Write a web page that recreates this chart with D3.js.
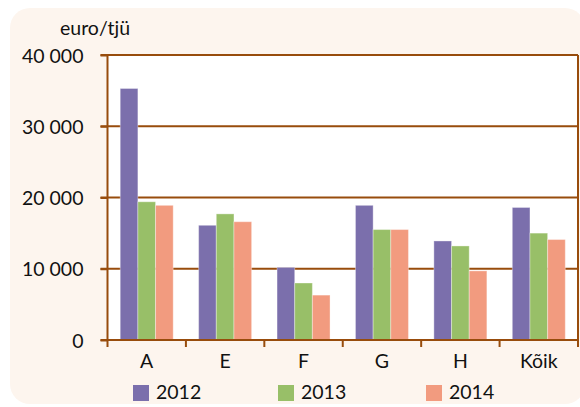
<!DOCTYPE html>
<html>
<head>
<meta charset="utf-8">
<script src="https://cdn.jsdelivr.net/npm/d3@7"></script>
<style>
  body { margin: 0; background: #fff; }
  svg text { font-family: Lato, "Open Sans", sans-serif; fill: #111; }
</style>
</head>
<body>
<svg id="chart" width="580" height="407"></svg>
<script>
var categories = ["A", "E", "F", "G", "H", "Kõik"];
var years = ["2012", "2013", "2014"];
var values2012 = [35300, 16100, 10200, 18900, 13900, 18600];
var values2013 = [19400, 17700, 8000, 15500, 13200, 15000];
var values2014 = [18900, 16600, 6300, 15500, 9700, 14100];
var yTicks = [0, 10000, 20000, 30000, 40000];
var colors = ["#7b6fac", "#98bf68", "#f29b7f"];

var series = [values2012, values2013, values2014];

var margin = {top: 55, right: 2, bottom: 67, left: 107.5},
    width = 580 - margin.left - margin.right,
    height = 407 - margin.top - margin.bottom;

var brown = "#984c0c";
var fs = 19.5;
var svg = d3.select("#chart");

// cream panel behind everything
svg.append("rect")
    .attr("x", 10).attr("y", 8)
    .attr("width", 575).attr("height", 396)
    .attr("rx", 20)
    .attr("fill", "#fdf5ee");

var g = svg.append("g")
    .attr("transform", "translate(" + margin.left + "," + margin.top + ")");

var x0 = d3.scaleBand()
    .domain(categories)
    .range([0, width]);

var x1 = d3.scaleBand()
    .domain(years)
    .range([0, x0.bandwidth()])
    .paddingOuter(0.72);

var y = d3.scaleLinear()
    .domain([0, 40000])
    .range([height, 0]);

g.append("rect")
    .attr("width", width).attr("height", height)
    .attr("fill", "#fff");

// gridlines
g.append("g")
    .selectAll("line")
    .data(yTicks.slice(1))
  .enter().append("line")
    .attr("x1", -7).attr("x2", width)
    .attr("y1", d => y(d)).attr("y2", d => y(d))
    .attr("stroke", brown)
    .attr("stroke-width", 2);

// bars
var group = g.selectAll(".cat")
    .data(categories)
  .enter().append("g")
    .attr("class", "cat")
    .attr("transform", d => "translate(" + x0(d) + ",0)");

group.selectAll("rect")
    .data((d, i) => years.map((yr, j) => ({year: yr, value: series[j][i], k: j})))
  .enter().append("rect")
    .attr("x", d => x1(d.year))
    .attr("y", d => y(d.value))
    .attr("width", x1.bandwidth())
    .attr("height", d => y(0) - y(d.value))
    .attr("fill", d => colors[d.k])
    .attr("stroke", "#fff")
    .attr("stroke-opacity", 0.35)
    .attr("stroke-width", 1);

// right border
g.append("line")
    .attr("x1", width).attr("x2", width)
    .attr("y1", 0).attr("y2", height + 7)
    .attr("stroke", brown).attr("stroke-width", 2);

// y axis
var yAxis = d3.axisLeft(y)
    .tickValues(yTicks)
    .tickSize(7)
    .tickPadding(17)
    .tickFormat(d => d === 0 ? "0" : d3.format(",")(d).replace(",", " "));

var ya = g.append("g").call(yAxis);
ya.select(".domain").remove();
ya.append("line")
    .attr("x1", 0).attr("x2", 0)
    .attr("y1", 0).attr("y2", height + 7)
    .attr("stroke", brown).attr("stroke-width", 2);
ya.selectAll(".tick line").attr("stroke", brown).attr("stroke-width", 2);
ya.selectAll(".tick text")
    .attr("font-size", fs)
    .attr("dy", "0.36em");

// x axis
var xa = g.append("g")
    .attr("transform", "translate(0," + height + ")");
xa.append("line")
    .attr("x1", -7).attr("x2", width)
    .attr("stroke", brown).attr("stroke-width", 2);
xa.selectAll(".tk")
    .data(categories.slice(1))
  .enter().append("line")
    .attr("x1", d => x0(d)).attr("x2", d => x0(d))
    .attr("y1", 0).attr("y2", 7)
    .attr("stroke", brown).attr("stroke-width", 2);
xa.selectAll("text")
    .data(categories)
  .enter().append("text")
    .attr("x", d => x0(d) + x0.bandwidth() / 2)
    .attr("y", 28)
    .attr("text-anchor", "middle")
    .attr("font-size", fs)
    .text(d => d);

// unit label
svg.append("text")
    .attr("x", 60).attr("y", 35)
    .attr("font-size", fs)
    .text("euro/tjü");

// legend
var legendX = d3.scaleOrdinal().domain(years).range([133, 278, 426]);
var legend = svg.selectAll(".leg")
    .data(years)
  .enter().append("g")
    .attr("class", "leg")
    .attr("transform", d => "translate(" + legendX(d) + ",385)");
legend.append("rect")
    .attr("width", 16).attr("height", 16)
    .attr("fill", (d, i) => colors[i]);
legend.append("text")
    .attr("x", 23).attr("y", 14)
    .attr("font-size", fs)
    .text(d => d);
</script>
</body>
</html>
